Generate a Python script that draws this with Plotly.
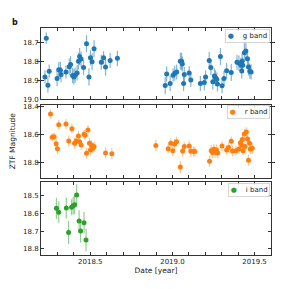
import plotly.graph_objects as go

# ---------------- data ----------------
g_date = [2018.224, 2018.232, 2018.242, 2018.25, 2018.298, 2018.308, 2018.318, 2018.322, 2018.352, 2018.372,
          2018.38, 2018.392, 2018.4, 2018.408, 2018.42, 2018.428, 2018.435, 2018.444, 2018.459, 2018.477,
          2018.492, 2018.501, 2018.511, 2018.523, 2018.567, 2018.581, 2018.593, 2018.621, 2018.665,
          2018.956, 2018.965, 2018.986, 2019.004, 2019.014, 2019.026, 2019.048, 2019.056, 2019.06, 2019.068,
          2019.072, 2019.102, 2019.112, 2019.17, 2019.194, 2019.202, 2019.224, 2019.234, 2019.246, 2019.256,
          2019.262, 2019.27, 2019.274, 2019.292, 2019.302, 2019.314, 2019.33, 2019.358, 2019.393, 2019.405,
          2019.417, 2019.422, 2019.424, 2019.428, 2019.438, 2019.447, 2019.457, 2019.463, 2019.471, 2019.479]
g_mag = [18.883, 18.679, 18.927, 18.853, 18.892, 18.845, 18.848, 18.871, 18.857, 18.829,
         18.818, 18.876, 18.883, 18.874, 18.862, 18.8, 18.775, 18.789, 18.834, 18.708,
         18.883, 18.782, 18.803, 18.735, 18.806, 18.782, 18.831, 18.796, 18.785,
         18.928, 18.868, 18.918, 18.874, 18.864, 18.857, 18.8, 18.8, 18.815, 18.918,
         18.871, 18.862, 18.9, 18.918, 18.913, 18.883, 18.797, 18.834, 18.909, 18.878,
         18.888, 18.895, 18.92, 18.775, 18.93, 18.892, 18.85, 18.86, 18.806, 18.81,
         18.822, 18.852, 18.801, 18.822, 18.755, 18.747, 18.787, 18.831, 18.853, 18.857]
g_err = [0.035, 0.03, 0.04, 0.035, 0.04, 0.04, 0.045, 0.04, 0.035, 0.045,
         0.045, 0.04, 0.04, 0.04, 0.04, 0.045, 0.045, 0.04, 0.04, 0.045,
         0.045, 0.04, 0.045, 0.045, 0.04, 0.035, 0.045, 0.04, 0.04,
         0.045, 0.04, 0.04, 0.035, 0.04, 0.04, 0.045, 0.045, 0.04, 0.04,
         0.04, 0.035, 0.035, 0.04, 0.04, 0.035, 0.045, 0.04, 0.04, 0.04,
         0.04, 0.035, 0.04, 0.045, 0.04, 0.04, 0.04, 0.045, 0.04, 0.04,
         0.04, 0.04, 0.045, 0.04, 0.05, 0.05, 0.045, 0.045, 0.04, 0.04]

r_date = [2018.258, 2018.268, 2018.28, 2018.292, 2018.3, 2018.308, 2018.352, 2018.369, 2018.388, 2018.404,
          2018.414, 2018.428, 2018.435, 2018.444, 2018.462, 2018.469, 2018.477, 2018.486, 2018.495, 2018.501,
          2018.507, 2018.516, 2018.523, 2018.593, 2018.631, 2018.899,
          2018.974, 2018.99, 2019.002, 2019.013, 2019.025, 2019.048, 2019.062, 2019.072, 2019.102, 2019.112,
          2019.128, 2019.136, 2019.226, 2019.236, 2019.244, 2019.252, 2019.26, 2019.268, 2019.276, 2019.302,
          2019.33, 2019.342, 2019.358, 2019.366, 2019.386, 2019.404, 2019.414, 2019.422, 2019.426, 2019.43,
          2019.438, 2019.442, 2019.45, 2019.457, 2019.463, 2019.469, 2019.474, 2019.486]
r_mag = [18.455, 18.621, 18.617, 18.667, 18.703, 18.531, 18.526, 18.648, 18.56, 18.664,
         18.648, 18.612, 18.653, 18.676, 18.6, 18.607, 18.736, 18.569, 18.664, 18.712,
         18.676, 18.7, 18.688, 18.734, 18.739, 18.681,
         18.703, 18.664, 18.717, 18.669, 18.653, 18.834, 18.719, 18.688, 18.684, 18.722,
         18.722, 18.724, 18.793, 18.717, 18.731, 18.707, 18.729, 18.712, 18.734, 18.684,
         18.712, 18.695, 18.65, 18.719, 18.717, 18.705, 18.66, 18.679, 18.638, 18.717,
         18.598, 18.688, 18.584, 18.634, 18.786, 18.664, 18.705, 18.7]
r_err = [0.035, 0.03, 0.03, 0.035, 0.04, 0.035, 0.035, 0.04, 0.035, 0.04,
         0.035, 0.035, 0.035, 0.035, 0.035, 0.035, 0.04, 0.035, 0.035, 0.04,
         0.035, 0.035, 0.035, 0.04, 0.04, 0.04,
         0.035, 0.035, 0.04, 0.035, 0.035, 0.045, 0.04, 0.035, 0.04, 0.04,
         0.035, 0.035, 0.04, 0.04, 0.04, 0.04, 0.04, 0.04, 0.04, 0.035,
         0.035, 0.035, 0.035, 0.04, 0.035, 0.035, 0.035, 0.035, 0.035, 0.035,
         0.035, 0.035, 0.035, 0.04, 0.04, 0.04, 0.04, 0.04]

i_date = [2018.294, 2018.308, 2018.354, 2018.368, 2018.386, 2018.396, 2018.405, 2018.417, 2018.432,
          2018.441, 2018.462, 2018.474]
i_mag = [18.57, 18.592, 18.568, 18.707, 18.564, 18.555, 18.549, 18.494, 18.641, 18.698, 18.651, 18.749]
i_err = [0.06, 0.06, 0.06, 0.065, 0.045, 0.05, 0.055, 0.06, 0.06, 0.065, 0.06, 0.065]

band_names = ["g band", "r band", "i band"]
band_colors = ["#1f77b4", "#ff7f0e", "#2ca02c"]
x_range = [2018.2, 2019.6]

# ---------------- figure ----------------
fig = go.Figure()

def add_band(x, y, e, color, ecolor, name, yaxis):
    fig.add_trace(go.Scatter(
        x=x, y=y, mode="markers", name=name,
        marker=dict(color=color, size=5),
        error_y=dict(type="data", array=e, visible=True, color=ecolor, thickness=1.2, width=0),
        xaxis="x", yaxis=yaxis, showlegend=False))

add_band(g_date, g_mag, g_err, band_colors[0], "rgba(31,119,180,0.55)", band_names[0], "y")
add_band(r_date, r_mag, r_err, band_colors[1], "rgba(255,127,14,0.45)", band_names[1], "y2")
add_band(i_date, i_mag, i_err, band_colors[2], "rgba(44,160,44,0.5)", band_names[2], "y3")

axcol = "#333333"
tickfont = dict(family="DejaVu Sans", size=7, color="#222")

common_x = dict(range=x_range, showline=True, linecolor=axcol, linewidth=1, mirror="allticks",
                ticks="inside", ticklen=3, tickcolor=axcol, tickwidth=0.8,
                tick0=2018.5, dtick=0.5, tickformat=".1f", showgrid=False, zeroline=False,
                minor=dict(dtick=0.1, tick0=2018.5, ticks="inside", ticklen=3, tickcolor=axcol, showgrid=False),
                tickfont=tickfont)

common_y = dict(showline=True, linecolor=axcol, linewidth=1, mirror="allticks",
                ticks="inside", ticklen=3, tickcolor=axcol, tickwidth=0.8,
                tickformat=".1f", showgrid=False, zeroline=False, tickfont=tickfont, anchor="x")

# legend boxes (one per panel), built as bordered text labels
legend_y = [0.965, 0.630, 0.286]
legend_ann = []
for name, col, ly in zip(band_names, band_colors, legend_y):
    legend_ann.append(dict(
        text=f"<span style='color:{col}'>●</span>&nbsp;&nbsp;&nbsp;&nbsp;{name}",
        xref="paper", yref="paper", x=0.996, y=ly, xanchor="right", yanchor="middle",
        showarrow=False, bgcolor="rgba(255,255,255,0.85)", bordercolor="#cccccc",
        borderwidth=0.8, borderpad=2,
        font=dict(family="DejaVu Sans", size=7, color="#222")))

fig.update_layout(
    width=293, height=289,
    margin=dict(l=38, r=22, t=28, b=34),
    paper_bgcolor="white", plot_bgcolor="white",
    font=dict(family="DejaVu Sans", size=7, color="#222"),
    xaxis=dict(**common_x, anchor="y3", showticklabels=True,
               title=dict(text="Date [year]", font=dict(family="DejaVu Sans", size=7.5, color="#222"), standoff=2)),
    yaxis=dict(**common_y, domain=[0.687, 1.0], range=[19.0, 18.625], dtick=0.1, tick0=18.7),
    yaxis2=dict(**common_y, domain=[0.341, 0.661], range=[18.91, 18.39], dtick=0.2, tick0=18.4,
                title=dict(text="ZTF Magnitude", font=dict(family="DejaVu Sans", size=7.5, color="#222"), standoff=6)),
    yaxis3=dict(**common_y, domain=[0.0, 0.32], range=[18.834, 18.423], dtick=0.1, tick0=18.5),
    annotations=[dict(text="<b>b</b>", xref="paper", yref="paper", x=-0.133, y=0.995,
                      xanchor="left", yanchor="bottom", showarrow=False,
                      font=dict(family="DejaVu Sans", size=8, color="#111"))] + legend_ann,
)

# extra x axes for the upper panels (no tick labels) so frames/ticks appear on each panel
fig.update_layout(
    xaxis2=dict(**common_x, anchor="y", overlaying="x", showticklabels=False),
    xaxis3=dict(**common_x, anchor="y2", overlaying="x", showticklabels=False),
)
fig.add_trace(go.Scatter(x=[x_range[0]], y=[19.0], xaxis="x2", yaxis="y", mode="markers",
                         marker=dict(opacity=0), showlegend=False, hoverinfo="skip"))
fig.add_trace(go.Scatter(x=[x_range[0]], y=[18.9], xaxis="x3", yaxis="y2", mode="markers",
                         marker=dict(opacity=0), showlegend=False, hoverinfo="skip"))

fig.write_html("out.html", config={"displayModeBar": False},
               post_script="document.body.style.margin='0';document.body.style.padding='0';")
